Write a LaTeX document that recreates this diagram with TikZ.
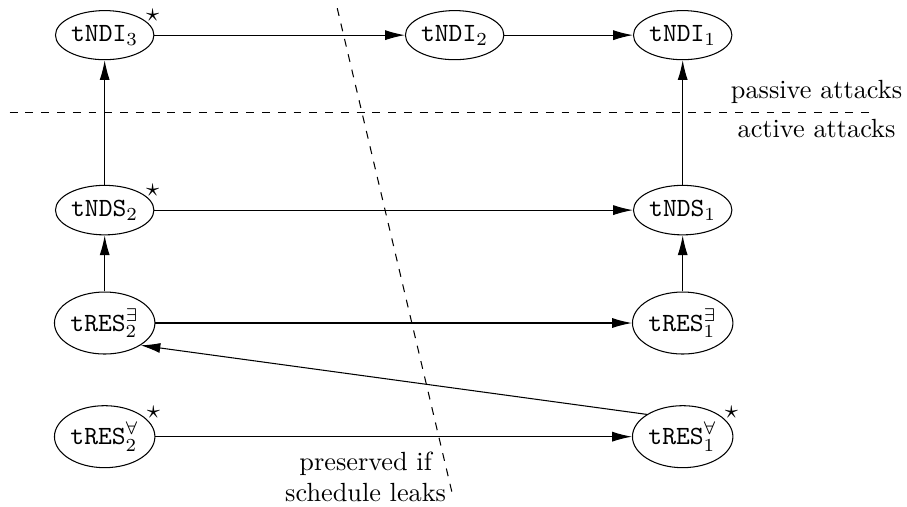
\documentclass[tikz,border=0pt]{standalone}
\usetikzlibrary{arrows.meta,shapes.geometric}
\begin{document}
\begin{tikzpicture}[
  game/.style={draw,ellipse,inner xsep=0.5pt,inner ysep=2.8pt},
  starred/.style={label={[anchor=south west,inner sep=0pt,xshift=2.2pt,yshift=-1.9pt]north east:$\star$}},
  reduce/.style={-{Latex[length=7.5pt,width=3.8pt]}}
]
\useasboundingbox (0,0) rectangle (12.13,6.78);
% games
\node[game,starred] (ndi3) at (1.40,6.31) {$\texttt{tNDI}_3$};
\node[game] (ndi2) at (6.08,6.31) {$\texttt{tNDI}_2$};
\node[game] (ndi1) at (9.13,6.31) {$\texttt{tNDI}_1$};
\node[game,starred] (nds2) at (1.40,3.97) {$\texttt{tNDS}_2$};
\node[game] (nds1) at (9.13,3.97) {$\texttt{tNDS}_1$};
\node[game] (resE2) at (1.40,2.46) {$\texttt{tRES}^{\exists}_2$};
\node[game] (resE1) at (9.13,2.46) {$\texttt{tRES}^{\exists}_1$};
\node[game,starred] (resA2) at (1.40,0.94) {$\texttt{tRES}^{\forall}_2$};
\node[game,starred] (resA1) at (9.13,0.94) {$\texttt{tRES}^{\forall}_1$};
% implications
\draw[reduce] (ndi3) -- (ndi2);
\draw[reduce] (ndi2) -- (ndi1);
\draw[reduce] (nds2) -- (nds1);
\draw[reduce] (resE2) -- (resE1);
\draw[reduce] (resA2) -- (resA1);
\draw[reduce] (nds2) -- (ndi3);
\draw[reduce] (resE2) -- (nds2);
\draw[reduce] (nds1) -- (ndi1);
\draw[reduce] (resE1) -- (nds1);
\draw[reduce] (resA1.north west) -- (resE2.south east);
% separators
\draw[dashed] (0.13,5.28) -- (11.70,5.28);
\node (passive) at (10.92,5.55) {passive attacks};
\node (active) at (10.92,5.06) {active attacks};
\draw[dashed] (4.51,6.67) -- (6.06,0.13);
\node[align=center] (leak) at (4.89,0.40) {preserved if\\schedule leaks};
\end{tikzpicture}
\end{document}
